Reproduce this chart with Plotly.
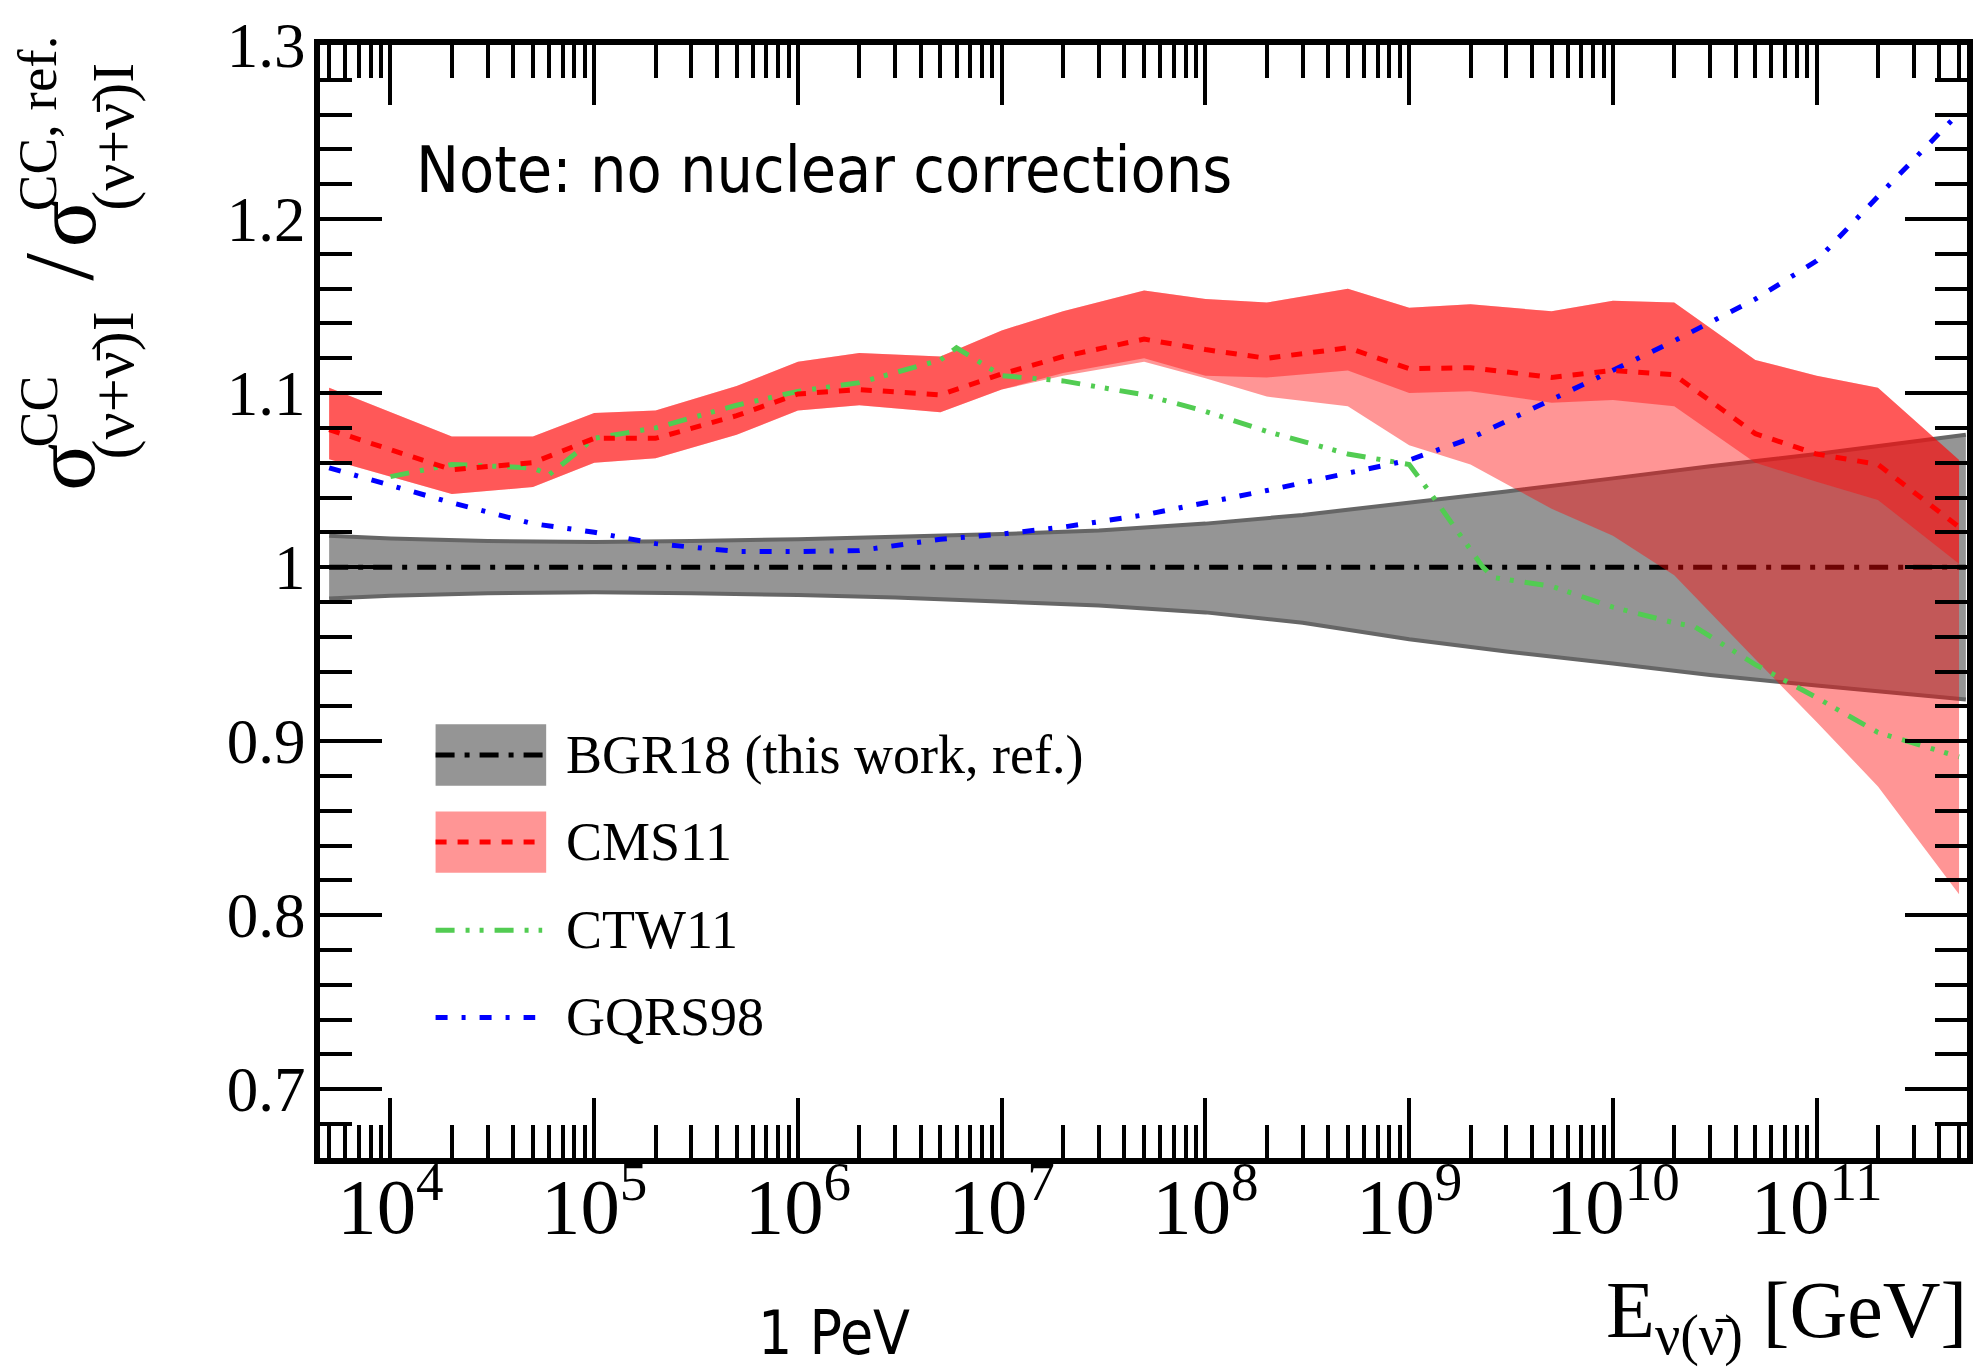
import plotly.graph_objects as go

# ---------------- data ----------------
E_bgr = [5e3, 1e4, 3e4, 1e5, 3e5, 1e6, 3e6, 1e7, 3e7, 1e8, 3e8, 1e9, 3e9, 1e10, 3e10, 1e11, 5.4e11]
bgr_up = [1.018, 1.0165, 1.015, 1.0145, 1.015, 1.016, 1.0175, 1.019, 1.021, 1.025, 1.030,
          1.037, 1.0435, 1.051, 1.058, 1.065, 1.076]
bgr_lo = [0.982, 0.9835, 0.985, 0.9855, 0.985, 0.984, 0.9825, 0.980, 0.978, 0.974, 0.968,
          0.9586, 0.9515, 0.9446, 0.938, 0.932, 0.924]
E_ref = [5e3, 5.4e11]
bgr_ref = [1.0, 1.0]

E_cms = [5e3, 2e4, 5e4, 1e5, 2e5, 5e5, 1e6, 2e6, 5e6, 1e7, 2e7, 5e7, 1e8, 2e8, 5e8,
         1e9, 2e9, 5e9, 1e10, 2e10, 5e10, 1e11, 2e11, 5e11]
cms_central = [1.079, 1.056, 1.060, 1.074, 1.074, 1.087, 1.0995, 1.102, 1.099, 1.111, 1.121, 1.131,
               1.125, 1.120, 1.126, 1.114, 1.1146, 1.109, 1.113, 1.1105, 1.0767, 1.065, 1.059, 1.023]
cms_up = [1.103, 1.075, 1.075, 1.0885, 1.090, 1.104, 1.118, 1.123, 1.121, 1.136, 1.147, 1.159,
          1.154, 1.152, 1.160, 1.149, 1.151, 1.147, 1.153, 1.152, 1.119, 1.110, 1.103, 1.0615]
cms_lo_pdf = [1.062, 1.042, 1.046, 1.060, 1.0625, 1.076, 1.090, 1.093, 1.089, 1.102, 1.1115, 1.120,
              1.110, 1.109, 1.113, 1.100, 1.101, 1.0945, 1.096, 1.0925, 1.060, 1.049, 1.0386, 1.002]
cms_lo_tot = [1.062, 1.042, 1.046, 1.060, 1.0625, 1.076, 1.090, 1.093, 1.089, 1.102, 1.110, 1.118,
              1.1085, 1.098, 1.0925, 1.070, 1.059, 1.0335, 1.018, 0.9954, 0.947, 0.911, 0.874, 0.812]

E_ctw = [1e4, 2e4, 5e4, 6e4, 1e5, 2e5, 5e5, 1e6, 2e6, 5e6, 6e6, 1e7, 2e7, 5e7, 1e8, 2e8, 5e8,
         1e9, 1.3e9, 2.3e9, 2.6e9, 5e9, 1e10, 2e10, 2.5e10, 5e10, 1e11, 2e11, 5e11]
ctw = [1.052, 1.059, 1.057, 1.053, 1.074, 1.080, 1.093, 1.101, 1.106, 1.119, 1.126, 1.110, 1.107,
       1.099, 1.0895, 1.078, 1.065, 1.059, 1.041, 1.0, 0.994, 0.989, 0.977, 0.968, 0.966, 0.944,
       0.925, 0.905, 0.891]

E_gqrs = [5e3, 1e4, 2e4, 5e4, 1e5, 2e5, 5e5, 1e6, 2e6, 5e6, 1e7, 2e7, 5e7, 1e8, 2e8, 5e8,
          1e9, 2e9, 5e9, 1e10, 2e10, 5e10, 1e11, 2e11, 5e11]
gqrs = [1.057, 1.047, 1.037, 1.025, 1.020, 1.0135, 1.009, 1.009, 1.0095, 1.016, 1.019, 1.023, 1.030,
        1.037, 1.044, 1.054, 1.0615, 1.074, 1.096, 1.113, 1.130, 1.154, 1.176, 1.213, 1.261]

legend_names = ["BGR18 (this work, ref.)", "CMS11", "CTW11", "GQRS98"]

# ---------------- style ----------------
SERIF = "Liberation Serif"
SANS = "DejaVu Sans Condensed, DejaVu Sans"
GRAY = "#959595"
GRAY_EDGE = "#666666"
RED_FILL = "rgba(255,10,10,0.43)"
RED = "#ff0000"
GREEN = "#52cc52"
BLUE = "#0000ff"
DASH_BGR = "19px,10px,5px,10px"
DASH_CMS = "11px,11px"
DASH_CTW = "19px,11px,4px,10px,4px,11px"
DASH_GQRS = "12px,14px,4px,14px"
LW = 5

W, H = 1984, 1367
PX0, PX1, PY0, PY1 = 320, 1973, 34, 1158


def px(x):
    return (x - PX0) / (PX1 - PX0)


def py(y):
    return (PY1 - y) / (PY1 - PY0)


fig = go.Figure()

# BGR18 band
fig.add_trace(go.Scatter(x=E_bgr + E_bgr[::-1], y=bgr_up + bgr_lo[::-1], fill="toself",
                         fillcolor=GRAY, line=dict(width=0), mode="lines", hoverinfo="skip"))
fig.add_trace(go.Scatter(x=E_bgr, y=bgr_up, mode="lines", line=dict(color=GRAY_EDGE, width=4)))
fig.add_trace(go.Scatter(x=E_bgr, y=bgr_lo, mode="lines", line=dict(color=GRAY_EDGE, width=4)))
fig.add_trace(go.Scatter(x=E_ref, y=bgr_ref, mode="lines",
                         line=dict(color="black", width=LW, dash=DASH_BGR)))

# CMS11 bands (two overlapping translucent bands)
fig.add_trace(go.Scatter(x=E_cms + E_cms[::-1], y=cms_up + cms_lo_tot[::-1], fill="toself",
                         fillcolor=RED_FILL, line=dict(width=0), mode="lines"))
fig.add_trace(go.Scatter(x=E_cms + E_cms[::-1], y=cms_up + cms_lo_pdf[::-1], fill="toself",
                         fillcolor=RED_FILL, line=dict(width=0), mode="lines"))

# lines
fig.add_trace(go.Scatter(x=E_ctw, y=ctw, mode="lines", line=dict(color=GREEN, width=LW, dash=DASH_CTW)))
fig.add_trace(go.Scatter(x=E_gqrs, y=gqrs, mode="lines", line=dict(color=BLUE, width=LW, dash=DASH_GQRS)))
fig.add_trace(go.Scatter(x=E_cms, y=cms_central, mode="lines", line=dict(color=RED, width=LW, dash=DASH_CMS)))

# ---------------- custom legend ----------------
shapes = []
ann = []
leg_rows = [751, 839, 928, 1016]
shapes.append(dict(type="rect", xref="paper", yref="paper", x0=px(436), x1=px(547),
                   y0=py(782), y1=py(720), fillcolor=GRAY, line=dict(width=0), layer="above"))
shapes.append(dict(type="rect", xref="paper", yref="paper", x0=px(436), x1=px(547),
                   y0=py(870), y1=py(808), fillcolor=RED_FILL, line=dict(width=0), layer="above"))
for yrow, x1, col, dash in [(751, 547, "black", DASH_BGR), (839, 536, RED, DASH_CMS),
                            (928, 543, GREEN, DASH_CTW), (1016, 536, BLUE, DASH_GQRS)]:
    shapes.append(dict(type="line", xref="paper", yref="paper", x0=px(436), x1=px(x1),
                       y0=py(yrow), y1=py(yrow), line=dict(color=col, width=LW, dash=dash),
                       layer="above"))
for name, yrow in zip(legend_names, leg_rows):
    ann.append(dict(text=name, xref="paper", yref="paper", x=px(565), y=py(yrow),
                    xanchor="left", yanchor="middle", showarrow=False,
                    font=dict(family=SERIF, size=54, color="black")))

# note
ann.append(dict(text="Note: no nuclear corrections", xref="paper", yref="paper",
                x=px(414), y=py(160), xanchor="left", yanchor="middle", showarrow=False,
                font=dict(family=SANS, size=64, color="black")))
# 1 PeV
ann.append(dict(text="1 PeV", xref="paper", yref="paper", x=px(836), y=py(1335),
                xanchor="center", yanchor="middle", showarrow=False,
                font=dict(family=SANS, size=60, color="black")))
# x title
ann.append(dict(text="E<sub>ν(ν̄)</sub> [GeV]", xref="paper", yref="paper",
                x=px(1975), y=py(1318), xanchor="right", yanchor="middle", showarrow=False,
                font=dict(family=SERIF, size=80, color="black")))

# y title pieces (rotated)
ytitle = [
    ("σ", 64, 460, 88),
    ("CC", 38, 404, 54),
    ("(ν+ν̄)I", 112, 378, 60),
    ("/", 58, 258, 100),
    ("σ", 64, 214, 88),
    ("CC, ref.", 36, 113, 55),
    ("(ν+ν̄)I", 112, 127, 60),
]
for txt, xc, yc, fs in ytitle:
    ann.append(dict(text=txt, xref="paper", yref="paper", x=px(xc), y=py(yc),
                    xanchor="center", yanchor="middle", textangle=-90, showarrow=False,
                    font=dict(family=SERIF, size=fs, color="black")))

fig.update_layout(
    width=W, height=H, autosize=False,
    margin=dict(l=PX0, r=W - PX1, t=PY0, b=H - PY1, pad=0),
    paper_bgcolor="white", plot_bgcolor="white",
    showlegend=False,
    shapes=shapes, annotations=ann,
    xaxis=dict(type="log", range=[3.654, 11.738], dtick=1, exponentformat="power",
               showgrid=False, zeroline=False, showline=True, linewidth=6, linecolor="black",
               mirror="allticks", ticks="inside", ticklen=60, tickwidth=4, tickcolor="black",
               tickfont=dict(family=SERIF, size=63, color="black"), ticklabelstandoff=-22,
               minor=dict(ticks="inside", ticklen=33, tickwidth=4, tickcolor="black",
                          dtick="D1", showgrid=False)),
    yaxis=dict(range=[0.6605, 1.3], tickmode="linear", tick0=0.7, dtick=0.1,
               showgrid=False, zeroline=False, showline=True, linewidth=6, linecolor="black",
               mirror="allticks", ticks="inside", ticklen=62, tickwidth=4, tickcolor="black",
               tickfont=dict(family=SERIF, size=63, color="black"), ticklabelstandoff=-4,
               minor=dict(ticks="inside", ticklen=32, tickwidth=4, tickcolor="black",
                          dtick=0.02, tick0=0.7, showgrid=False)),
)

fig.write_html("out.html")
